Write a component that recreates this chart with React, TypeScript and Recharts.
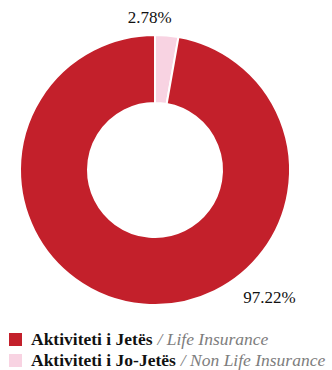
import React from "react";
import { PieChart, Pie, Cell } from "recharts";

const categories = ["Aktiviteti i Jo-Jetës", "Aktiviteti i Jetës"];
const englishNames = ["Non Life Insurance", "Life Insurance"];
const values = [2.78, 97.22];
const colors = ["#F8D3E2", "#C3202B"];

const data = categories.map((name, i) => ({ name, value: values[i] }));

const FONT = "Liberation Serif, Times New Roman, DejaVu Serif, serif";

const labelOffsets = [
  { angle: 92, r: 153 },
  { angle: -48, r: 171 },
];

const renderLabel = (props: any) => {
  const { cx, cy, index, value } = props;
  const o = labelOffsets[index];
  const rad = (o.angle * Math.PI) / 180;
  const x = cx + o.r * Math.cos(rad);
  const y = cy - o.r * Math.sin(rad);
  return (
    <text
      x={x}
      y={y}
      textAnchor="middle"
      dominantBaseline="central"
      fill="#111"
      fontSize={17}
      style={{ fontFamily: FONT }}
    >
      {value.toFixed(2)}%
    </text>
  );
};

const legendOrder = [1, 0];

export default function App() {
  return (
    <div style={{ position: "absolute", left: 0, top: 0, width: 332, height: 370, background: "#fff" }}>
      <PieChart width={332} height={320} margin={{ top: 0, left: 0, right: 0, bottom: 0 }}>
        <Pie
          data={data}
          dataKey="value"
          cx={155}
          cy={170}
          innerRadius={67}
          outerRadius={135}
          startAngle={90}
          endAngle={-270}
          stroke="#fff"
          strokeWidth={2}
          label={renderLabel}
          labelLine={false}
          isAnimationActive={false}
        >
          {data.map((d, i) => (
            <Cell key={d.name} fill={colors[i]} />
          ))}
        </Pie>
      </PieChart>
      <div style={{ position: "absolute", left: 9, top: 329, fontFamily: FONT, fontSize: 17.5 }}>
        {legendOrder.map((i) => (
          <div key={i} style={{ display: "flex", alignItems: "center", height: 21, whiteSpace: "nowrap" }}>
            <span style={{ display: "inline-block", width: 13, height: 13, background: colors[i], marginRight: 9 }} />
            <span style={{ fontWeight: "bold", color: "#111" }}>{categories[i]}</span>
            <span style={{ color: "#7d7d7d", fontStyle: "italic", marginLeft: 5 }}>/ {englishNames[i]}</span>
          </div>
        ))}
      </div>
    </div>
  );
}
